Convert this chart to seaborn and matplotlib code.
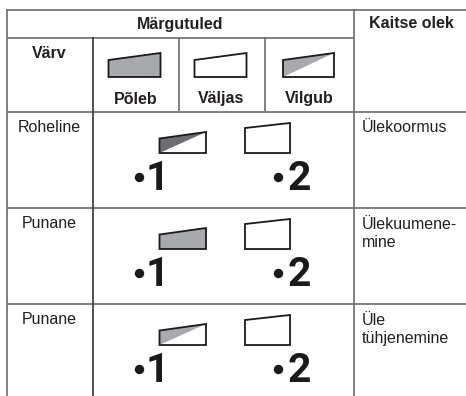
import matplotlib.pyplot as plt
import seaborn as sns

header_title = "Märgutuled"
header_state = "Kaitse olek"
header_color = "Värv"
light_states = ["Põleb", "Väljas", "Vilgub"]
row_colors = ["Roheline", "Punane", "Punane"]
row_states = ["Ülekoormus", "Ülekuumene-\nmine", "Üle\ntühjenemine"]
led_numbers = ["1", "2"]
# what led 1 does on each row, led 2 is always off
row_led1 = ["blink_dark", "on", "blink"]

GREY = "#a7a9ac"
DARK_GREY = "#6d6e71"
LINE = "#6b6b6b"
TEXT = "#231f20"

sns.set_theme(style="white")
plt.rcParams["font.family"] = ["Liberation Sans", "DejaVu Sans"]

W, H = 466, 396
fig = plt.figure(figsize=(W / 100, H / 100), dpi=100)
ax = fig.add_axes([0, 0, 1, 1])
ax.set_xlim(0, W)
ax.set_ylim(H, 0)
ax.axis("off")


def draw_icon(x0, x1, y_left, y_right, y_bottom, state):
    shape = [(x0, y_bottom), (x0, y_left), (x1, y_right), (x1, y_bottom)]
    if state == "on":
        ax.fill(*zip(*shape), color=GREY, lw=0, zorder=2)
    elif state == "blink":
        ax.fill(*zip(*shape[:3]), color=GREY, lw=0, zorder=2)
    elif state == "blink_dark":
        ax.fill(*zip(*shape[:3]), color=DARK_GREY, lw=0, zorder=2)
    ax.fill(*zip(*shape), fc="none", ec="#1a1a1a", lw=1.3, joinstyle="miter", zorder=3)


# table lines
hlines = [(9.5, 7, 466), (37.5, 7, 354), (111.5, 7, 466), (208, 7, 466), (304, 7, 466)]
for y, x0, x1 in hlines:
    ax.plot([x0, x1], [y, y], color=LINE, lw=1.2, solid_capstyle="butt")
vlines = [(7, 9, 396), (92.5, 37, 396), (178.5, 37, 111), (264.5, 37, 111), (354, 9, 396)]
for x, y0, y1 in vlines:
    ax.plot([x, x], [y0, y1], color=LINE if x != 92.5 else "#333333", lw=1.2, solid_capstyle="butt")

# header
bold = dict(fontweight="bold", fontsize=11.5, color=TEXT, ha="center", va="center")
ax.text(180.5, 24, header_title, **bold)
ax.text(411, 24, header_state, **bold)
ax.text(49, 53, header_color, **bold)

header_x = [(108.5, 160.5), (194.5, 246.5), (283, 334)]
header_icons = ["on", "off", "blink"]
for (x0, x1), state, label in zip(header_x, header_icons, light_states):
    draw_icon(x0, x1, 60, 53, 77, state)
    ax.text((x0 + x1) / 2 + 1, 99, label, **bold)

# rows
normal = dict(fontsize=11.5, color=TEXT, va="center", linespacing=1.22)
number = dict(fontsize=29.5, fontweight="bold", color="#1a1a1a", family="Roboto", va="baseline")
for i, (name, state, led) in enumerate(zip(row_colors, row_states, row_led1)):
    dy = i * 96
    ax.text(49.5, 127.5 + dy, name, ha="center", **normal)
    ax.text(361.5, 137.5 + dy if "\n" in state else 127.5 + dy, state, ha="left", **normal)
    draw_icon(159.5, 206, 138.5 + dy, 132 + dy, 153 + dy, led)
    draw_icon(245, 290, 128 + dy, 123 + dy, 153 + dy, "off")
    sns.scatterplot(x=[139, 278], y=[176.5 + dy, 176.5 + dy], s=46, color="#1a1a1a",
                    linewidth=0, legend=False, ax=ax, zorder=3)
    ax.text(169, 190 + dy, led_numbers[0], ha="right", **number)
    ax.text(299, 190 + dy, led_numbers[1], ha="center", **number)

ax.set_xlim(0, W)
ax.set_ylim(H, 0)
ax.set_xlabel("")
ax.set_ylabel("")
fig.savefig("out.png", dpi=100)
